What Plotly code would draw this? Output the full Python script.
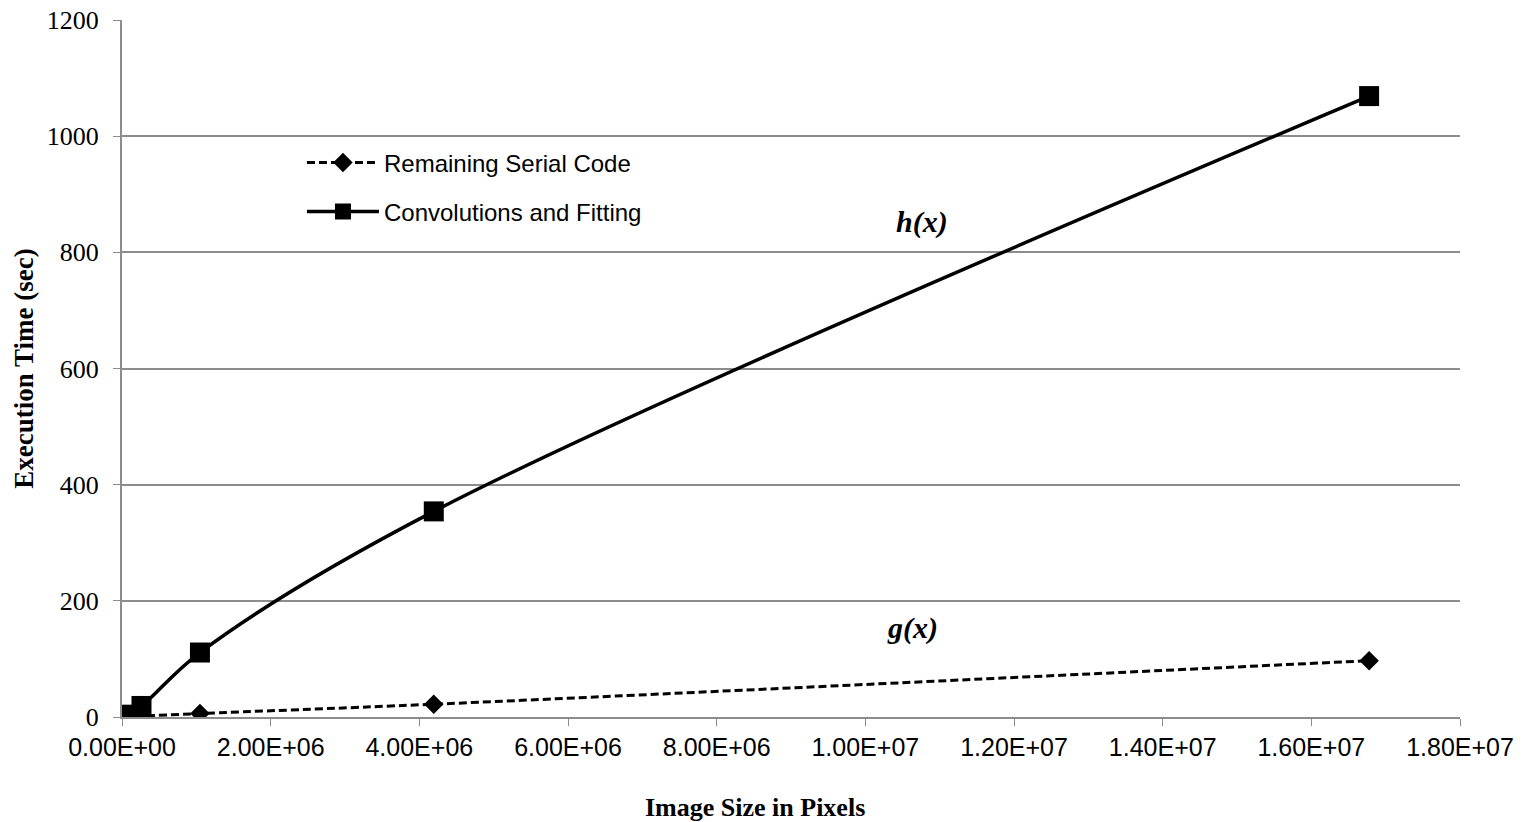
import plotly.graph_objects as go

x_pixels = [16384, 65536, 262144, 1048576, 4194304, 16777216]
serial = [0.1, 0.4, 1.6, 6, 22, 97]
conv = [1, 4, 19, 111, 354, 1069]
x_ticks = [0, 2e6, 4e6, 6e6, 8e6, 1e7, 1.2e7, 1.4e7, 1.6e7, 1.8e7]
x_tick_text = ["0.00E+00", "2.00E+06", "4.00E+06", "6.00E+06", "8.00E+06",
               "1.00E+07", "1.20E+07", "1.40E+07", "1.60E+07", "1.80E+07"]
y_ticks = [0, 200, 400, 600, 800, 1000, 1200]

fig = go.Figure()
fig.add_trace(go.Scatter(
    x=x_pixels, y=serial, name="Remaining Serial Code", mode="lines+markers",
    line=dict(color="black", width=3, dash="8px,4px", shape="spline"),
    marker=dict(symbol="diamond", size=15, color="black"),
    legend="legend",
))
fig.add_trace(go.Scatter(
    x=x_pixels, y=conv, name="Convolutions and Fitting", mode="lines+markers",
    line=dict(color="black", width=3.5, shape="spline"),
    marker=dict(symbol="square", size=20, color="black"),
    legend="legend2",
))

fig.add_annotation(x=1.0762e7, y=852, text="<b><i>h(x)</i></b>", showarrow=False,
                   font=dict(family="Liberation Serif", size=30, color="black"))
fig.add_annotation(x=1.0628e7, y=153, text="<b><i>g(x)</i></b>", showarrow=False,
                   font=dict(family="Liberation Serif", size=30, color="black"))
# x-axis title (placed off-centre, as in the original)
fig.add_annotation(xref="paper", yref="paper", x=(755 - 122) / 1338, y=(717 - 807) / 697,
                   xanchor="center", yanchor="middle", showarrow=False,
                   text="<b>Image Size in Pixels</b>",
                   font=dict(family="Liberation Serif", size=26, color="black"))

legend_common = dict(xanchor="left", yanchor="middle", bgcolor="rgba(0,0,0,0)",
                     font=dict(family="Liberation Sans", size=24, color="black"),
                     itemwidth=72)

fig.update_layout(
    width=1528, height=822,
    margin=dict(l=122, r=68, t=20, b=105),
    plot_bgcolor="white", paper_bgcolor="white",
    showlegend=True,
    legend=dict(x=0.1345, y=1 - (163 - 20) / 697, **legend_common),
    legend2=dict(x=0.1345, y=1 - (212 - 20) / 697, **legend_common),
    xaxis=dict(range=[0, 1.8e7], tickvals=x_ticks, ticktext=x_tick_text, automargin=False,
               showgrid=False, zeroline=False, showline=True, linecolor="#8c8c8c", linewidth=2,
               ticks="outside", ticklen=7, tickcolor="#8c8c8c",
               tickfont=dict(family="Liberation Sans", size=25, color="black")),
    yaxis=dict(range=[0, 1200], tickvals=y_ticks, automargin=False,
               showgrid=True, gridcolor="#8c8c8c", gridwidth=1.5, zeroline=False,
               showline=True, linecolor="#8c8c8c", linewidth=2,
               ticks="outside", ticklen=7, tickcolor="#8c8c8c", ticklabelstandoff=9,
               tickfont=dict(family="Liberation Serif", size=26, color="black"),
               title=dict(text="<b>Execution Time (sec)</b>", standoff=5,
                          font=dict(family="Liberation Serif", size=27, color="black"))),
)

fig.write_html("out.html")
